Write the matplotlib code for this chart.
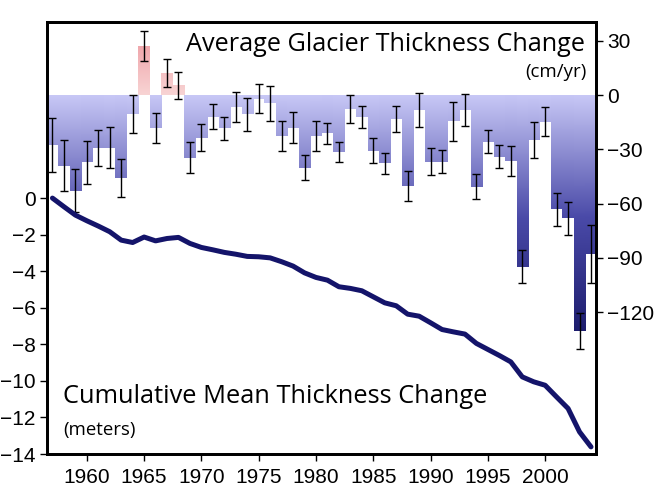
import numpy as np
import matplotlib
matplotlib.use("Agg")
import matplotlib.pyplot as plt
from matplotlib.colors import LinearSegmentedColormap

# annual thickness change (cm/yr) with error, 1957-2004
years = list(range(1957, 2005))
annual = [-27.6, -39.0, -52.8, -37.2, -29.5, -29.0, -46.0, -10.5, 27.2, -18.4,
          12.3, 5.3, -34.6, -23.6, -12.0, -18.4, -6.4, -10.7, -2.0, -4.6,
          -22.7, -18.0, -40.1, -22.7, -21.2, -31.3, -7.7, -12.3, -30.8, -37.8,
          -13.3, -50.1, -8.3, -36.8, -36.8, -14.6, -8.3, -50.6, -25.8, -34.0,
          -36.5, -94.8, -24.9, -14.7, -63.2, -68.1, -130.2, -87.8]
errors = [14.7, 14.2, 12.0, 12.0, 9.9, 11.1, 10.5, 10.7, 8.3, 8.3,
          7.7, 7.3, 8.7, 7.6, 6.9, 6.2, 8.3, 9.1, 8.0, 9.7,
          8.5, 8.7, 6.8, 8.3, 6.0, 5.5, 7.6, 6.0, 7.0, 5.8,
          7.4, 8.4, 9.4, 7.6, 6.5, 11.0, 8.8, 6.7, 6.3, 6.4,
          8.4, 9.0, 10.0, 8.0, 9.0, 9.2, 10.0, 16.0]

# cumulative mean thickness change (m)
cumulative = [0.0, -0.47, -0.93, -1.24, -1.53, -1.84, -2.30, -2.43, -2.13, -2.34,
              -2.21, -2.15, -2.48, -2.70, -2.83, -2.97, -3.07, -3.19, -3.21, -3.27,
              -3.48, -3.72, -4.09, -4.34, -4.49, -4.85, -4.94, -5.07, -5.40, -5.73,
              -5.89, -6.35, -6.46, -6.82, -7.19, -7.32, -7.44, -7.95, -8.28, -8.61,
              -8.96, -9.78, -10.05, -10.24, -10.88, -11.51, -12.79, -13.61]

year_ticks = [1960, 1965, 1970, 1975, 1980, 1985, 1990, 1995, 2000]
m_ticks = [0, -2, -4, -6, -8, -10, -12, -14]
cm_ticks = [30, 0, -30, -60, -90, -120]

fig = plt.figure(figsize=(6.58, 5.0), dpi=100)
ax = fig.add_axes([0.071, 0.092, 0.835, 0.8646])
ax2 = ax.twinx()

blues = LinearSegmentedColormap.from_list("neg", ["#1a1a6a", "#4a4aa8", "#c8c8f6"])
pinks = LinearSegmentedColormap.from_list("pos", ["#f8d4d4", "#ee9ea4"])
grad = np.linspace(0, 1, 256).reshape(-1, 1)

# bars filled with a vertical gradient (clipped images)
bars = ax2.bar(years, annual, width=1.0, color="none", edgecolor="none")
for b, v in zip(bars, annual):
    if v < 0:
        img = ax2.imshow(grad, cmap=blues, aspect="auto", origin="lower",
                         extent=(1956, 2005, -135, 0), zorder=1)
    else:
        img = ax2.imshow(grad, cmap=pinks, aspect="auto", origin="lower",
                         extent=(1956, 2005, 0, 32), zorder=1)
    img.set_clip_path(b)

ax2.errorbar(years, annual, yerr=errors, fmt="none", ecolor="black",
             elinewidth=1, capsize=3, capthick=1, zorder=3)

ax.plot(years, cumulative, color="#14146a", lw=3.6, solid_capstyle="round", zorder=4)
ax.set_zorder(ax2.get_zorder() + 1)
ax.patch.set_visible(False)

ax.set_xlim(1956.5, 2004.45)
ax.set_ylim(-14, 9.65)
ax2.set_ylim(-198.3, 40.5)

ax.set_xticks(year_ticks)
ax.set_yticks(m_ticks)
ax2.set_yticks(cm_ticks)
for lab in ax.get_xticklabels() + ax.get_yticklabels() + ax2.get_yticklabels():
    lab.set_fontsize(15)
    lab.set_family("Liberation Sans")
ax.tick_params(axis="both", direction="out", length=5, width=1, pad=3)
ax2.tick_params(axis="y", direction="out", length=5, width=1, pad=3)
ax.xaxis.set_tick_params(pad=5)

for a in (ax, ax2):
    for s in a.spines.values():
        s.set_linewidth(2)

ax.text(0.980, 0.948, "Average Glacier Thickness Change", transform=ax.transAxes,
        ha="right", va="center", fontsize=18.2, family="Open Sans", zorder=5)
ax.text(0.982, 0.884, "(cm/yr)", transform=ax.transAxes,
        ha="right", va="center", fontsize=13.4, family="Open Sans", zorder=5)
ax.text(0.030, 0.132, "Cumulative Mean Thickness Change", transform=ax.transAxes,
        ha="left", va="center", fontsize=18.3, family="Open Sans", zorder=5)
ax.text(0.030, 0.056, "(meters)", transform=ax.transAxes,
        ha="left", va="center", fontsize=13.4, family="Open Sans", zorder=5)

fig.savefig("out.png", dpi=100)
